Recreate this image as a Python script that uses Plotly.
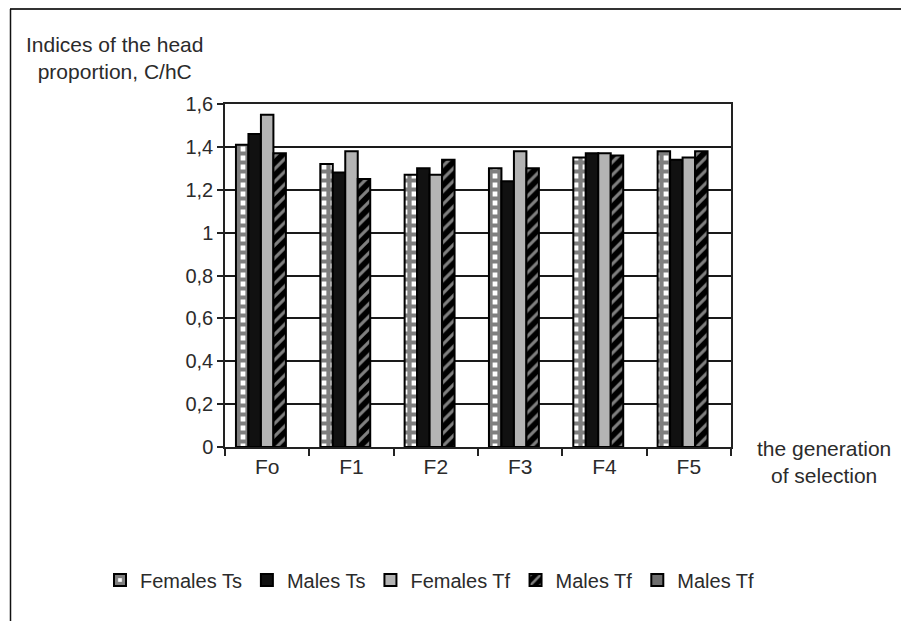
import plotly.graph_objects as go

categories = ["Fo", "F1", "F2", "F3", "F4", "F5"]
females_ts = [1.41, 1.32, 1.27, 1.30, 1.35, 1.38]
males_ts = [1.46, 1.28, 1.30, 1.24, 1.37, 1.34]
females_tf = [1.55, 1.38, 1.27, 1.38, 1.37, 1.35]
males_tf = [1.37, 1.25, 1.34, 1.30, 1.36, 1.38]
males_tf2 = [None, None, None, None, None, None]

y_ticks = [0, 0.2, 0.4, 0.6, 0.8, 1.0, 1.2, 1.4, 1.6]
y_ticktext = ["0", "0,2", "0,4", "0,6", "0,8", "1", "1,2", "1,4", "1,6"]

FONT = "Liberation Sans, Arial, sans-serif"
TXT = "#2b2b2b"
FS = 21

fig = go.Figure()
line = dict(color="black", width=2)
fig.add_trace(go.Bar(name="Females Ts", x=categories, y=females_ts,
                     marker=dict(color="white", line=line,
                                 pattern=dict(shape="+", fgcolor="black", bgcolor="white",
                                              size=9, solidity=0.72))))
fig.add_trace(go.Bar(name="Males Ts", x=categories, y=males_ts,
                     marker=dict(color="#111111", line=line)))
fig.add_trace(go.Bar(name="Females Tf", x=categories, y=females_tf,
                     marker=dict(color="#b4b4b4", line=line)))
fig.add_trace(go.Bar(name="Males Tf", x=categories, y=males_tf,
                     marker=dict(color="black", line=line,
                                 pattern=dict(shape="/", fgcolor="white", bgcolor="black",
                                              size=9, solidity=0.35))))
fig.add_trace(go.Bar(name="Males Tf", x=categories, y=males_tf2,
                     marker=dict(color="#6e6e6e", line=line)))

# page body adds an 8px offset; targets below are in screenshot pixels
OFF = 8
W, H = 909, 621
L = 225 - OFF
T = 104 - OFF
R = W - (731 - OFF)
B = H - (447 - OFF)
pw, ph = W - L - R, H - T - B

def px(x):
    return (x - OFF - L) / pw

def py(y):
    return (H - B - (y - OFF)) / ph

fig.update_layout(
    width=W, height=H,
    margin=dict(l=L, r=R, t=T, b=B, pad=0),
    paper_bgcolor="white", plot_bgcolor="white",
    barmode="group", bargap=0.26, bargroupgap=0,
    font=dict(family=FONT, size=FS, color=TXT),
    showlegend=True,
    legend=dict(orientation="h", x=px(100), y=py(580), xanchor="left", yanchor="middle",
                font=dict(size=FS - 1, color=TXT), itemwidth=30, tracegroupgap=0,
                bgcolor="rgba(0,0,0,0)"),
    xaxis=dict(showgrid=False, showline=True, linecolor="#222", linewidth=1.5, mirror=True,
               ticks="outside", tickson="boundaries", ticklen=7, tickcolor="#222",
               tickwidth=1.5, tickfont=dict(size=FS, color=TXT)),
    yaxis=dict(range=[0, 1.6], tickvals=y_ticks, ticktext=y_ticktext,
               showgrid=True, gridcolor="#1a1a1a", gridwidth=1.5,
               showline=True, linecolor="#222", linewidth=1.5, mirror=True,
               ticks="outside", ticklen=6, tickcolor="#222", tickwidth=1.5,
               zeroline=False, tickfont=dict(size=FS - 1, color=TXT)),
    annotations=[
        dict(text="Indices of the head<br>proportion, C/hC", xref="paper", yref="paper",
             x=px(114), y=py(58), xanchor="center", yanchor="middle", showarrow=False,
             font=dict(size=FS, color=TXT), align="center"),
        dict(text="the generation<br>of selection", xref="paper", yref="paper",
             x=px(824), y=py(462), xanchor="center", yanchor="middle", showarrow=False,
             font=dict(size=FS, color=TXT), align="center"),
    ],
    shapes=[
        dict(type="line", xref="paper", yref="paper", x0=px(10), x1=px(930), y0=py(9), y1=py(9),
             line=dict(color="#333", width=2)),
        dict(type="line", xref="paper", yref="paper", x0=px(10.5), x1=px(10.5), y0=py(9), y1=py(640),
             line=dict(color="#111", width=1.5)),
    ],
)

fig.write_html("out.html")
